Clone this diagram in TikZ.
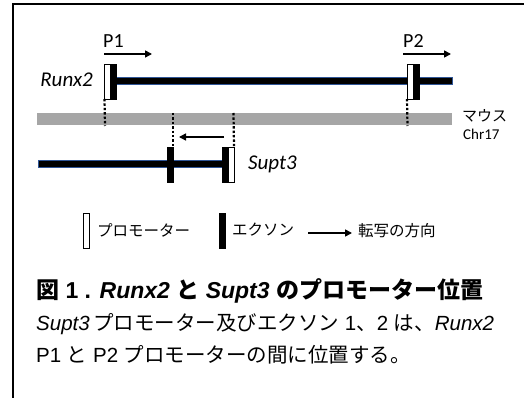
\documentclass[tikz,border=0pt]{standalone}
\usepackage{fontspec}
\setmainfont{Liberation Sans}
\newfontfamily\calfont{Carlito}
\newfontfamily\jpfont[BoldFont={* Black}]{Noto Sans CJK JP}
\usetikzlibrary{arrows.meta}
\definecolor{band}{HTML}{A6A6A6}
\definecolor{edge}{HTML}{2F5597}
\tikzset{
  promo/.style={draw=black, fill=white, line width=0.7pt, minimum width=6pt, minimum height=35pt, inner sep=0pt, outer sep=0pt},
  exon/.style={draw=black, fill=black, line width=0.7pt, minimum width=6pt, minimum height=35pt, inner sep=0pt, outer sep=0pt},
  gene/.style={fill=black, draw=edge, line width=0.6pt},
  dir/.style={line width=1.6pt, -{Triangle[length=7pt,width=7pt]}},
  dots/.style={line width=2.2pt, dash pattern=on 2.4pt off 2pt},
  lbl/.style={font=\calfont\fontsize{20}{20}\selectfont, inner sep=0pt},
  small/.style={font=\calfont\fontsize{15}{15}\selectfont, inner sep=0pt},
  legend/.style={font=\jpfont\fontsize{15.5}{15.5}\selectfont, inner sep=0pt, anchor=west},
  captext/.style={font=\fontsize{20.5}{20.5}\selectfont, inner sep=0pt, anchor=west}
}
\begin{document}
\begin{tikzpicture}[x=1pt,y=-1pt]
\useasboundingbox (0,0) rectangle (524,398);
\clip (0,0) rectangle (524,398);
\fill[white] (0,0) rectangle (524,398);
\draw[line width=2pt] (12.5,4.5) rectangle (600,450);

% chromosome band
\fill[band] (37,113) rectangle (452,125);
\node[font=\jpfont\fontsize{15}{15}\selectfont, anchor=west, inner sep=0pt] (mouse) at (462,116) {マウス};
\node[small, anchor=west] (chr) at (463,134) {Chr17};

% Runx2
\draw[gene] (113,77.5) rectangle (452,84.5);
\node[promo] (p1) at (107.5,81.5) {};
\node[exon] (e1) at (113.5,81.5) {};
\node[promo] (p2) at (410,81.5) {};
\node[exon] (e2) at (416,81.5) {};
\node[lbl, anchor=east, font=\calfont\itshape\fontsize{21}{21}\selectfont] (runx) at (93,80) {Runx2};
\node[lbl, anchor=south west] (P1) at (103,48) {P1};
\node[lbl, anchor=south west] (P2) at (403,48) {P2};
\coordinate (a1s) at (104,54); \coordinate (a1e) at (152,54);
\coordinate (a2s) at (403,54); \coordinate (a2e) at (451,54);
\draw[dir] (a1s) -- (a1e);
\draw[dir] (a2s) -- (a2e);
\coordinate (d1) at (105,126); \coordinate (d2) at (407.5,126);
\draw[dots] (p1.south west) -- (d1);
\draw[dots] (p2.south west) -- (d2);

% Supt3
\draw[gene] (38,160.5) rectangle (225,167);
\node[exon] (s1) at (170,164.5) {};
\node[exon] (s2) at (225,164.5) {};
\node[promo] (sp) at (231,164.5) {};
\node[lbl, anchor=west, font=\calfont\itshape\fontsize{21}{21}\selectfont] (supt) at (248,164) {Supt3};
\coordinate (t1) at (173,113); \coordinate (t2) at (233.5,113);
\draw[dots] (t1) -- (s1.north east);
\draw[dots] (t2) -- (sp.north east);
\coordinate (b1s) at (224,137); \coordinate (b1e) at (179,137);
\draw[dir] (b1s) -- (b1e);

% legend
\node[promo] (lp) at (86,230.5) {};
\node[legend] (lpt) at (97,230) {プロモーター};
\node[exon] (le) at (222,230.5) {};
\node[legend] (let) at (232,230) {エクソン};
\coordinate (las) at (308,233); \coordinate (lae) at (352,233);
\draw[dir] (las) -- (lae);
\node[legend] (lat) at (358,231) {転写の方向};

% caption
\node[captext, font=\bfseries\fontsize{23}{23}\selectfont] (title) at (36,291)
  {{\jpfont\bfseries 図} 1 . \textit{Runx2} {\jpfont\bfseries と} \textit{Supt3} {\jpfont\bfseries のプロモーター位置}};
\node[captext] (l2) at (36,324)
  {\textit{Supt3}\,{\jpfont プロモーター及びエクソン} 1{\jpfont 、}2 {\jpfont は、}\textit{Runx2}};
\node[captext] (l3) at (36,355)
  {P1 {\jpfont と} P2 {\jpfont プロモーターの間に位置する。}};
\end{tikzpicture}
\end{document}
